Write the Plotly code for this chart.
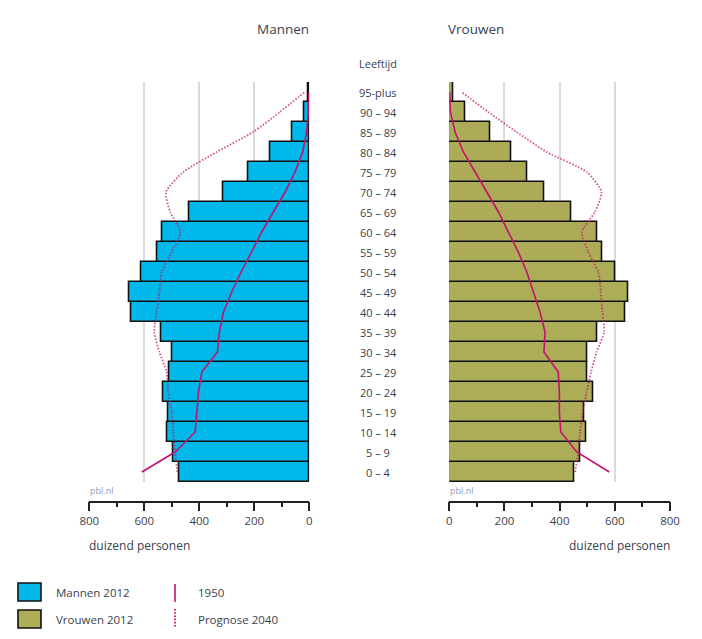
import plotly.graph_objects as go

# ---------------- data ----------------
ages = ["0 – 4", "5 – 9", "10 – 14", "15 – 19", "20 – 24", "25 – 29", "30 – 34",
        "35 – 39", "40 – 44", "45 – 49", "50 – 54", "55 – 59", "60 – 64", "65 – 69",
        "70 – 74", "75 – 79", "80 – 84", "85 – 89", "90 – 94", "95-plus"]

men_2012 = [473, 493, 518, 511, 532, 508, 499, 538, 649, 655, 611, 552, 536, 435,
            312, 223, 142, 63, 17, 3]
women_2012 = [452, 474, 495, 488, 522, 500, 500, 537, 639, 649, 603, 555, 538, 444,
              343, 284, 226, 148, 57, 15]
men_1950 = [609, 488, 415, 409, 403, 391, 334, 327, 312, 282, 248, 210, 173, 131,
            88, 52, 24, 10, 3, 1]
women_1950 = [580, 462, 404, 399, 399, 395, 343, 347, 329, 305, 281, 250, 214, 178,
              136, 93, 51, 21, 4, 1]
men_2040 = [480, 488, 495, 500, 513, 519, 545, 564, 555, 545, 537, 500, 468, 506,
            521, 458, 337, 204, 107, 16]
women_2040 = [456, 468, 474, 484, 498, 514, 534, 561, 555, 549, 540, 504, 480, 528,
              552, 498, 353, 244, 141, 45]

x_ticks = [0, 200, 400, 600, 800]

# ---------------- style ----------------
W, H = 702, 639
OFF = 8  # page offset of the figure in the browser
BLUE = "#00b8ea"
OLIVE = "#adac57"
MAG = "#c2126f"
TXT = "#3b3f4e"
FONT = "Open Sans"
DOT = "1.6px,1.6px"

def px(x):
    return (x - OFF) / W

def py(y):
    return 1 - (y - OFF) / H

idx = list(range(len(ages)))

fig = go.Figure()

fig.add_trace(go.Bar(y=idx, x=men_2012, orientation="h",
                     marker=dict(color=BLUE, line=dict(color="#111", width=1.6)),
                     xaxis="x", yaxis="y", showlegend=False, width=1.0))
fig.add_trace(go.Bar(y=idx, x=women_2012, orientation="h",
                     marker=dict(color=OLIVE, line=dict(color="#111", width=1.6)),
                     xaxis="x2", yaxis="y2", showlegend=False, width=1.0))

fig.add_trace(go.Scatter(y=idx, x=men_1950, mode="lines", line=dict(color=MAG, width=1.6),
                         xaxis="x", yaxis="y", showlegend=False))
fig.add_trace(go.Scatter(y=idx, x=women_1950, mode="lines", line=dict(color=MAG, width=1.6),
                         xaxis="x2", yaxis="y2", showlegend=False))
fig.add_trace(go.Scatter(y=idx, x=men_2040, mode="lines",
                         line=dict(color=MAG, width=1.8, dash=DOT, shape="spline", smoothing=0.6),
                         xaxis="x", yaxis="y", showlegend=False, opacity=0.7))
fig.add_trace(go.Scatter(y=idx, x=women_2040, mode="lines",
                         line=dict(color=MAG, width=1.8, dash=DOT, shape="spline", smoothing=0.6),
                         xaxis="x2", yaxis="y2", showlegend=False, opacity=0.7))

axis_common = dict(
    tickmode="array", tickvals=x_ticks, ticktext=[str(v) for v in x_ticks],
    showgrid=True, gridcolor="#dadada", gridwidth=1.5, zeroline=False,
    showline=True, linecolor="#222", linewidth=1.5,
    ticks="outside", ticklen=9, tickwidth=1.5, tickcolor="#222",
    minor=dict(tickmode="linear", tick0=0, dtick=100, ticks="outside", ticklen=5,
               tickwidth=1.5, tickcolor="#222", showgrid=False),
    tickfont=dict(family=FONT, size=11.5, color=TXT),
    anchor="free", position=py(501.7), fixedrange=True, automargin=False,
)
yaxis_common = dict(domain=[py(482), py(82)], range=[-0.5, len(ages) - 0.5],
                    showticklabels=False, showgrid=False, zeroline=False, showline=False,
                    ticks="", fixedrange=True, automargin=False)

fig.update_layout(
    width=W, height=H, autosize=False,
    margin=dict(l=0, r=0, t=0, b=0, pad=0),
    paper_bgcolor="white", plot_bgcolor="white",
    bargap=0,
    xaxis=dict(domain=[px(89.3), px(309.3)], range=[800, 0], **axis_common),
    xaxis2=dict(domain=[px(449.3), px(670)], range=[0, 800], **axis_common),
    yaxis=dict(anchor="x", **yaxis_common),
    yaxis2=dict(anchor="x2", **yaxis_common),
    font=dict(family=FONT, color=TXT),
)

ann = []
for i, a in enumerate(ages):
    ann.append(dict(x=px(378), xref="paper", y=i, yref="y", text=a, showarrow=False,
                    xanchor="center", yanchor="middle", font=dict(size=11, color=TXT)))
ann.append(dict(x=px(378), xref="paper", y=py(63), yref="paper", text="Leeftijd", showarrow=False,
                xanchor="center", yanchor="middle", font=dict(size=11, color=TXT)))
ann.append(dict(x=px(311), xref="paper", y=py(29), yref="paper", text="Mannen", showarrow=False,
                xanchor="right", yanchor="middle", font=dict(size=13.5, color=TXT)))
ann.append(dict(x=px(446), xref="paper", y=py(29), yref="paper", text="Vrouwen", showarrow=False,
                xanchor="left", yanchor="middle", font=dict(size=13.5, color=TXT)))
for xx in (px(88), px(448)):
    ann.append(dict(x=xx, xref="paper", y=py(490), yref="paper", text="pbl.nl", showarrow=False,
                    xanchor="left", yanchor="middle", font=dict(size=9, color="#8d9fbf")))
ann.append(dict(x=px(87), xref="paper", y=py(545), yref="paper", text="duizend personen",
                showarrow=False, xanchor="left", yanchor="middle", font=dict(size=12, color=TXT)))
ann.append(dict(x=px(672), xref="paper", y=py(545), yref="paper", text="duizend personen",
                showarrow=False, xanchor="right", yanchor="middle", font=dict(size=12, color=TXT)))

legend_items = [("Mannen 2012", BLUE, 592), ("Vrouwen 2012", OLIVE, 619)]
shapes = []
for label, col, yc in legend_items:
    shapes.append(dict(type="rect", xref="paper", yref="paper", x0=px(18), x1=px(41),
                       y0=py(yc + 9), y1=py(yc - 9), fillcolor=col,
                       line=dict(color="#111", width=1.6)))
    ann.append(dict(x=px(54), xref="paper", y=py(yc), yref="paper", text=label, showarrow=False,
                    xanchor="left", yanchor="middle", font=dict(size=11.5, color=TXT)))
shapes.append(dict(type="line", xref="paper", yref="paper", x0=px(175), x1=px(175),
                   y0=py(584), y1=py(602), line=dict(color=MAG, width=1.6)))
shapes.append(dict(type="line", xref="paper", yref="paper", x0=px(175), x1=px(175),
                   y0=py(609), y1=py(628), line=dict(color=MAG, width=1.8, dash=DOT)))
ann.append(dict(x=px(196), xref="paper", y=py(592), yref="paper", text="1950", showarrow=False,
                xanchor="left", yanchor="middle", font=dict(size=11.5, color=TXT)))
ann.append(dict(x=px(196), xref="paper", y=py(619), yref="paper", text="Prognose 2040",
                showarrow=False, xanchor="left", yanchor="middle", font=dict(size=11.5, color=TXT)))

fig.update_layout(annotations=ann, shapes=shapes)

fig.write_html("out.html")
